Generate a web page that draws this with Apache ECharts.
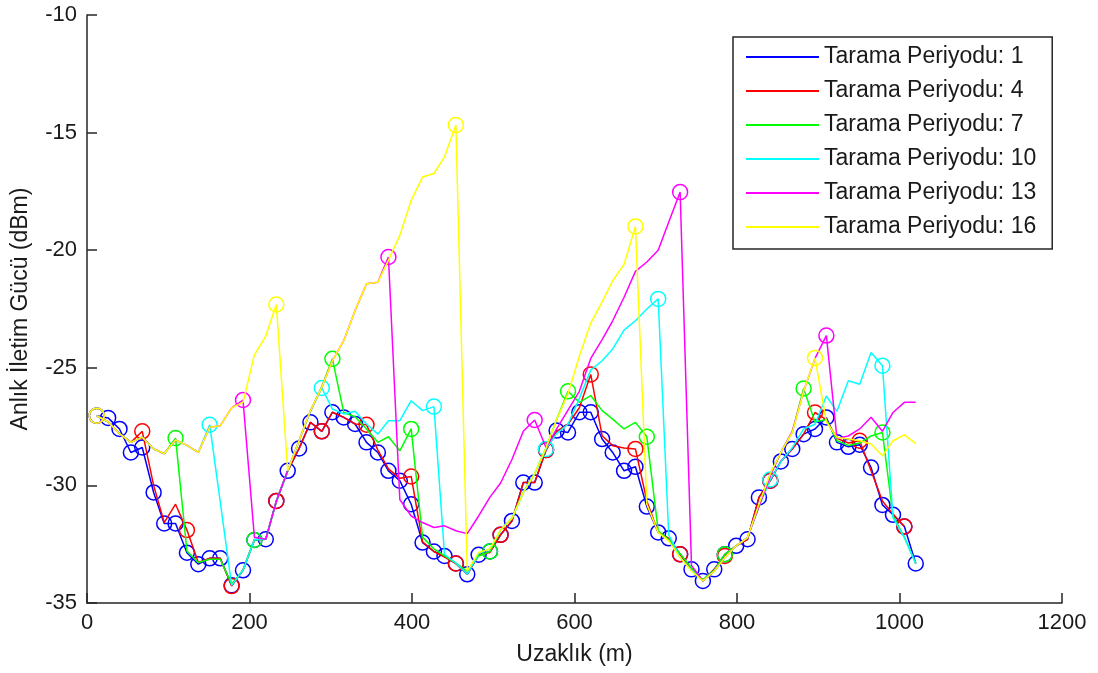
<!DOCTYPE html>
<html>
<head>
<meta charset="utf-8">
<script src="https://cdn.jsdelivr.net/npm/echarts@6/dist/echarts.min.js"></script>
<style>
html,body{margin:0;padding:0;background:#fff;}
#chart{width:1098px;height:673px;}
</style>
</head>
<body>
<div id="chart"></div>
<script>
// Distance (m) of each sample
const distance = [12, 26, 40, 54, 68, 82, 95, 109, 123, 137, 151, 164, 178, 192, 206, 220, 233, 247, 261, 275,
  289, 302, 316, 330, 344, 358, 371, 385, 399, 413, 427, 440, 454, 468, 482, 496, 509, 523, 537, 551,
  565, 578, 592, 606, 620, 634, 647, 661, 675, 689, 703, 716, 730, 744, 758, 772, 785, 799, 813, 827,
  841, 854, 868, 882, 896, 910, 923, 937, 951, 965, 979, 992, 1006, 1020];

const periods = [1, 4, 7, 10, 13, 16];
const seriesNames = ['Tarama Periyodu: 1', 'Tarama Periyodu: 4', 'Tarama Periyodu: 7',
  'Tarama Periyodu: 10', 'Tarama Periyodu: 13', 'Tarama Periyodu: 16'];

const p1 = [-27.04, -27.13, -27.60, -28.60, -28.39, -30.30, -31.62, -31.62, -32.86, -33.35,
  -33.10, -33.10, -34.25, -33.61, -32.32, -32.29, -30.66, -29.38, -28.43, -27.32,
  -27.70, -26.89, -27.11, -27.39, -28.17, -28.60, -29.38, -29.80, -30.80, -32.43,
  -32.81, -33.00, -33.32, -33.78, -32.95, -32.81, -32.10, -31.51, -29.88, -29.88,
  -28.50, -27.67, -27.75, -26.89, -26.89, -28.03, -28.60, -29.38, -29.21, -30.90,
  -32.00, -32.25, -32.93, -33.57, -34.06, -33.57, -32.93, -32.57, -32.29, -30.51,
  -29.80, -28.98, -28.45, -27.82, -27.60, -27.11, -28.17, -28.36, -28.27, -29.24,
  -30.83, -31.25, -31.75, -33.32];

const p4 = [-27.04, -27.30, -27.80, -28.17, -27.70, -30.00, -31.58, -30.80, -31.90, -33.28,
  -33.10, -33.10, -34.28, -33.61, -32.30, -32.29, -30.66, -29.38, -28.43, -27.32,
  -27.70, -26.89, -27.11, -27.39, -27.42, -28.50, -29.30, -29.70, -29.62, -32.40,
  -32.81, -33.05, -33.32, -33.78, -32.95, -32.85, -32.10, -31.51, -29.88, -29.88,
  -28.50, -27.70, -27.40, -26.70, -25.28, -27.89, -28.31, -28.41, -28.45, -30.66,
  -32.00, -32.25, -32.93, -33.57, -34.06, -33.57, -33.00, -32.57, -32.29, -30.51,
  -29.80, -28.98, -28.45, -27.82, -26.90, -27.20, -28.00, -28.20, -28.10, -29.38,
  -30.66, -31.22, -31.75];

const p7 = [-27.04, -27.30, -27.80, -28.17, -27.95, -28.45, -28.65, -27.99, -32.79, -33.28,
  -33.14, -33.14, -34.20, -33.61, -32.32, -32.29, -30.70, -29.38, -28.10, -26.85,
  -25.80, -24.62, -26.90, -27.08, -27.60, -28.17, -27.93, -28.53, -27.60, -32.20,
  -32.70, -33.00, -33.30, -33.65, -33.00, -32.81, -31.90, -31.40, -30.30, -29.50,
  -28.40, -27.20, -26.00, -26.47, -26.18, -26.82, -27.18, -27.60, -27.32, -27.93,
  -31.93, -32.30, -32.90, -33.50, -34.00, -33.60, -32.93, -32.57, -32.22, -30.90,
  -29.50, -28.60, -27.75, -25.88, -27.30, -27.20, -28.10, -28.30, -28.20, -27.90,
  -27.75, -31.30, -32.20, -33.32];

const p10 = [-27.04, -27.30, -27.80, -28.17, -27.95, -28.45, -28.65, -28.07, -28.30, -28.60,
  -27.42, -30.70, -34.25, -33.61, -32.30, -32.29, -30.70, -29.38, -28.10, -26.85,
  -25.86, -26.75, -26.96, -26.85, -27.39, -27.82, -27.25, -27.25, -26.40, -26.82,
  -26.65, -32.93, -33.30, -33.78, -32.90, -32.70, -31.90, -31.40, -30.30, -29.50,
  -28.45, -27.80, -27.40, -26.30, -25.10, -24.70, -24.20, -23.40, -23.00, -22.50,
  -22.07, -32.10, -33.07, -33.60, -34.06, -33.65, -33.07, -32.57, -32.22, -30.90,
  -29.75, -29.00, -28.40, -27.60, -27.40, -26.20, -26.85, -25.55, -25.70, -24.35,
  -24.91, -31.37, -32.22, -33.32];

const p13 = [-27.04, -27.30, -27.80, -28.17, -27.95, -28.45, -28.65, -28.07, -28.30, -28.60,
  -27.53, -27.46, -26.70, -26.37, -32.20, -32.29, -30.70, -29.38, -28.10, -26.82,
  -25.83, -24.70, -23.84, -22.56, -21.43, -21.36, -20.29, -30.60, -31.30, -31.58,
  -31.79, -31.72, -31.93, -32.05, -31.30, -30.50, -29.90, -28.90, -27.70, -27.22,
  -28.40, -27.60, -26.80, -26.00, -24.60, -23.80, -23.00, -22.00, -20.90, -20.50,
  -20.00, -18.80, -17.53, -33.40, -34.06, -33.65, -33.07, -32.57, -32.22, -30.90,
  -29.60, -28.60, -27.70, -26.00, -24.60, -23.63, -28.00, -27.90, -27.60, -27.10,
  -27.70, -26.90, -26.47, -26.47];

const p16 = [-27.04, -27.30, -27.80, -28.17, -27.95, -28.45, -28.65, -28.07, -28.30, -28.60,
  -27.53, -27.46, -26.70, -26.47, -24.45, -23.65, -22.31, -29.38, -28.10, -26.82,
  -25.83, -24.70, -23.84, -22.56, -21.43, -21.36, -20.43, -19.37, -17.88, -16.89,
  -16.74, -16.03, -14.68, -33.64, -32.85, -32.70, -31.90, -31.40, -30.30, -29.50,
  -28.40, -27.20, -26.10, -24.50, -23.10, -22.20, -21.30, -20.60, -18.99, -30.80,
  -32.00, -32.36, -33.07, -33.64, -34.06, -33.65, -33.07, -32.57, -32.22, -30.80,
  -29.50, -28.60, -27.75, -26.00, -24.58, -27.30, -27.96, -28.03, -28.10, -28.24,
  -28.74, -28.10, -27.85, -28.22];

const seriesValues = [p1, p4, p7, p10, p13, p16];
const colors = ['#0000ff', '#ff0000', '#00ff00', '#00ffff', '#ff00ff', '#ffff00'];

const xTicks = {min: 0, max: 1200, interval: 200};
const yTicks = {min: -35, max: -10, interval: 5};

const FONT = "'Liberation Sans', Arial, sans-serif";
const chart = echarts.init(document.getElementById('chart'), null, {renderer: 'canvas'});

const series = seriesValues.map((vals, si) => ({
  name: seriesNames[si],
  type: 'line',
  data: vals.map((v, i) => [distance[i], v]),
  showSymbol: true,
  showAllSymbol: true,
  symbol: (value, params) => (params.dataIndex % periods[si] === 0 ? 'circle' : 'none'),
  symbolSize: 15,
  lineStyle: {color: colors[si], width: 1.5},
  itemStyle: {color: 'rgba(0,0,0,0)', borderColor: colors[si], borderWidth: 1.5},
  emphasis: {disabled: true},
  z: 2 + si,
  animation: false
}));

chart.setOption({
  backgroundColor: '#fff',
  animation: false,
  grid: {left: 87, right: 36, top: 15, bottom: 70},
  xAxis: {
    type: 'value', min: xTicks.min, max: xTicks.max, interval: xTicks.interval,
    name: 'Uzaklık (m)', nameLocation: 'middle', nameGap: 40,
    nameTextStyle: {fontFamily: FONT, fontSize: 23, color: '#1a1a1a'},
    axisLine: {show: true, onZero: false, lineStyle: {color: '#262626', width: 1.5}},
    axisTick: {show: true, inside: true, length: 10, lineStyle: {color: '#262626', width: 1.5}},
    axisLabel: {fontFamily: FONT, fontSize: 22, color: '#1a1a1a', margin: 9,
      formatter: (v) => String(v)},
    splitLine: {show: false}
  },
  yAxis: {
    type: 'value', min: yTicks.min, max: yTicks.max, interval: yTicks.interval,
    name: 'Anlık İletim Gücü (dBm)', nameLocation: 'middle', nameGap: 55,
    nameTextStyle: {fontFamily: FONT, fontSize: 23, color: '#1a1a1a'},
    axisLine: {show: true, onZero: false, lineStyle: {color: '#262626', width: 1.5}},
    axisTick: {show: true, inside: true, length: 10, lineStyle: {color: '#262626', width: 1.5}},
    axisLabel: {fontFamily: FONT, fontSize: 22, color: '#1a1a1a', margin: 10,
      formatter: (v) => String(v)},
    splitLine: {show: false}
  },
  legend: {
    orient: 'vertical', left: 733, top: 37,
    padding: [8, 16, 10, 13],
    backgroundColor: '#fff', borderColor: '#262626', borderWidth: 1.5,
    icon: 'rect', itemWidth: 73, itemHeight: 2, itemGap: 10,
    selectedMode: false,
    itemStyle: {borderWidth: 0},
    textStyle: {fontFamily: FONT, fontSize: 23, color: '#1a1a1a', lineHeight: 24},
    data: seriesNames.map((n, i) => ({name: n, itemStyle: {color: colors[i], borderWidth: 0}}))
  },
  series: series
});
</script>
</body>
</html>
